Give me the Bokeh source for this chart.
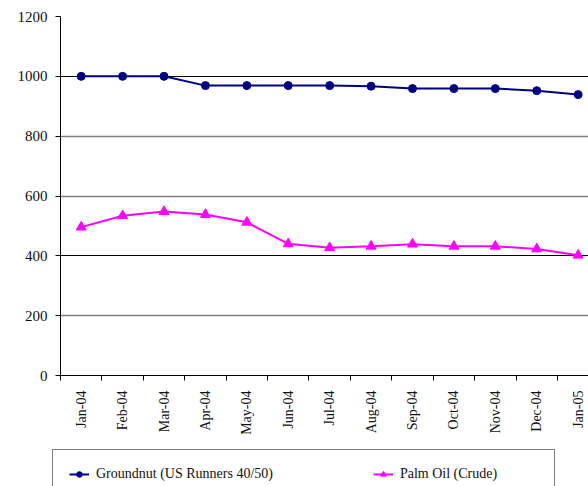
import math
from bokeh.plotting import figure
from bokeh.layouts import column
from bokeh.models import Range1d, FixedTicker, Grid, Legend, LegendItem
from bokeh.embed import file_html
from bokeh.resources import INLINE

months = ["Jan-04", "Feb-04", "Mar-04", "Apr-04", "May-04", "Jun-04", "Jul-04",
          "Aug-04", "Sep-04", "Oct-04", "Nov-04", "Dec-04", "Jan-05"]
groundnut = [1000, 1000, 1000, 969, 969, 969, 969, 967, 959, 959, 959, 952, 939]
palm_oil = [496, 534, 548, 538, 512, 440, 427, 432, 439, 432, 432, 423, 402]
y_ticks = [0, 200, 400, 600, 800, 1000, 1200]
series_names = ["Groundnut (US Runners 40/50)", "Palm Oil (Crude)"]
series_colors = ["#000080", "#FF00FF"]

x = list(range(len(months)))
FONT = "'Liberation Serif', 'Times New Roman', serif"

p = figure(width=588, height=440, output_backend="svg", toolbar_location=None,
           x_range=Range1d(-0.5, 12.25), y_range=Range1d(0, 1200),
           min_border_left=60, min_border_right=0, min_border_top=16,
           min_border_bottom=65)
p.frame_align = False
p.outline_line_color = None
p.background_fill_color = "white"
p.border_fill_color = "white"

# grids
p.xgrid.visible = False
p.ygrid.visible = False
g1 = Grid(dimension=1, ticker=FixedTicker(ticks=[400, 1000, 1200]),
          grid_line_color="black", grid_line_width=1)
g2 = Grid(dimension=1, ticker=FixedTicker(ticks=[200, 600, 800]),
          grid_line_color="#808080", grid_line_width=1.5)
p.add_layout(g1)
p.add_layout(g2)

# y axis
p.yaxis.ticker = FixedTicker(ticks=y_ticks)
p.yaxis.axis_line_color = "black"
p.yaxis.major_tick_line_color = "black"
p.yaxis.major_tick_out = 5
p.yaxis.major_tick_in = 0
p.yaxis.minor_tick_line_color = None
p.yaxis.major_label_text_font = FONT
p.yaxis.major_label_text_font_size = "15px"
p.yaxis.major_label_text_color = "#111111"
p.yaxis.major_label_standoff = 8

# x axis
boundaries = [i - 0.5 for i in range(len(months) + 1)]
p.xaxis.ticker = FixedTicker(ticks=x, minor_ticks=boundaries)
p.xaxis.major_label_overrides = {i: m for i, m in enumerate(months)}
p.xaxis.major_label_orientation = math.pi / 2
p.xaxis.axis_line_color = "black"
p.xaxis.major_tick_out = 0
p.xaxis.major_tick_in = 0
p.xaxis.minor_tick_out = 5
p.xaxis.minor_tick_in = 0
p.xaxis.minor_tick_line_color = "black"
p.xaxis.major_label_standoff = 10
p.xaxis.major_label_text_font = FONT
p.xaxis.major_label_text_font_size = "14px"
p.xaxis.major_label_text_color = "#111111"

p.line(x, groundnut, line_color=series_colors[0], line_width=2)
p.scatter(x, groundnut, marker="circle", size=8, color=series_colors[0])
p.line(x, palm_oil, line_color=series_colors[1], line_width=2)
p.scatter(x, palm_oil, marker="triangle", size=10, color=series_colors[1])

# legend strip (separate figure so the box can run off the bottom edge);
# its ranges keep the series themselves out of view, only the legend shows
q = figure(width=588, height=46, output_backend="svg", toolbar_location=None,
           x_range=Range1d(-100, -99), y_range=Range1d(-100, -99),
           x_axis_location=None, y_axis_location=None,
           min_border_left=0, min_border_right=0, min_border_top=0,
           min_border_bottom=0)
q.frame_align = False
q.outline_line_color = None
q.xgrid.visible = False
q.ygrid.visible = False
ql1 = q.line(x, groundnut, line_color=series_colors[0], line_width=2)
qc1 = q.scatter(x, groundnut, marker="circle", size=8, color=series_colors[0])
ql2 = q.line(x, palm_oil, line_color=series_colors[1], line_width=2)
qc2 = q.scatter(x, palm_oil, marker="triangle", size=10, color=series_colors[1])

legend = Legend(items=[LegendItem(label=series_names[0], renderers=[ql1, qc1]),
                       LegendItem(label=series_names[1], renderers=[ql2, qc2])],
                orientation="horizontal", location=(52, -13), margin=0, padding=16,
                spacing=100, glyph_width=20, glyph_height=14, label_height=14,
                label_width=138, label_standoff=7,
                border_line_color="black", border_line_width=1,
                label_text_font=FONT, label_text_font_size="14px",
                label_text_color="#111111", background_fill_color="white",
                background_fill_alpha=1)
q.add_layout(legend)

layout = column(p, q, spacing=0)
open("out.html", "w").write(file_html(layout, INLINE))
